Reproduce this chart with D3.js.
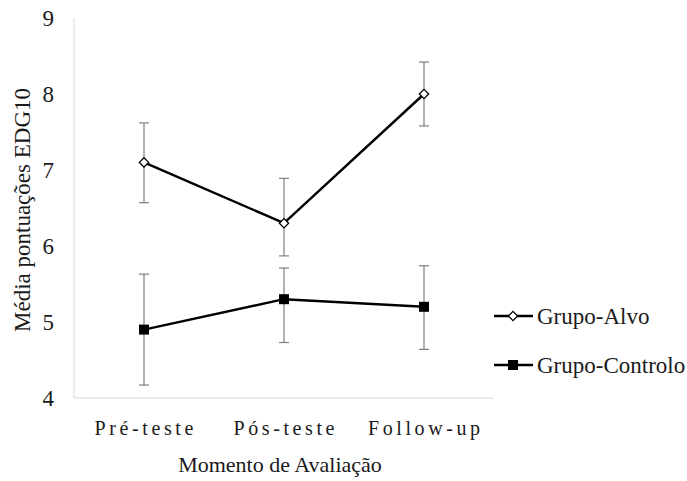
<!DOCTYPE html>
<html><head><meta charset="utf-8">
<script src="https://cdn.jsdelivr.net/npm/d3@7"></script>
<style>body{margin:0;background:#fff}</style>
</head><body>
<svg id="c" width="687" height="481"></svg>
<script>
const categories = ["Pré-teste", "Pós-teste", "Follow-up"];
const alvoMean = [7.1, 6.3, 8.0];
const alvoLow = [6.57, 5.87, 7.58];
const alvoHigh = [7.62, 6.89, 8.42];
const controloMean = [4.9, 5.3, 5.2];
const controloLow = [4.17, 4.73, 4.64];
const controloHigh = [5.63, 5.71, 5.74];
const yTicks = [4, 5, 6, 7, 8, 9];
const seriesNames = ["Grupo-Alvo", "Grupo-Controlo"];

const svg = d3.select("#c");
const x = d3.scaleBand().domain(categories).range([74, 494]);
const y = d3.scaleLinear().domain([4, 9]).range([398, 18]);
const serif = "'Liberation Serif', 'Times New Roman', serif";
const txt = "#1a1a1a";

// axes lines
svg.append("line").attr("x1", 74).attr("x2", 74).attr("y1", y(9)).attr("y2", y(4)).attr("stroke", "#d9d9d9").attr("stroke-width", 1);
svg.append("line").attr("x1", 74).attr("x2", 494).attr("y1", y(4)).attr("y2", y(4)).attr("stroke", "#d9d9d9").attr("stroke-width", 1);

// y tick labels
svg.selectAll(".yt").data(yTicks).join("text")
  .attr("x", 54).attr("y", d => y(d)).attr("dy", "0.33em")
  .attr("text-anchor", "end").attr("font-family", serif).attr("font-size", 23).attr("fill", txt)
  .text(d => d);

// x tick labels
svg.selectAll(".xt").data(categories).join("text")
  .attr("x", d => x(d) + x.bandwidth() / 2 + 1.8).attr("y", 435)
  .attr("text-anchor", "middle").attr("font-family", serif).attr("font-size", 20)
  .attr("letter-spacing", "3.6px").attr("fill", txt)
  .text(d => d);

// axis titles
svg.append("text").attr("x", 280).attr("y", 472).attr("text-anchor", "middle")
  .attr("font-family", serif).attr("font-size", 22).attr("fill", txt).text("Momento de Avaliação");
svg.append("text").attr("transform", "translate(30,210) rotate(-90)").attr("text-anchor", "middle")
  .attr("font-family", serif).attr("font-size", 23).attr("fill", txt).text("Média pontuações EDG10");

const cx = d => x(d) + x.bandwidth() / 2;
function errorBars(means, lows, highs) {
  const g = svg.append("g").attr("stroke", "#7f7f7f").attr("stroke-width", 1.2);
  categories.forEach((c, i) => {
    g.append("line").attr("x1", cx(c)).attr("x2", cx(c)).attr("y1", y(lows[i])).attr("y2", y(highs[i]));
    g.append("line").attr("x1", cx(c) - 5).attr("x2", cx(c) + 5).attr("y1", y(lows[i])).attr("y2", y(lows[i]));
    g.append("line").attr("x1", cx(c) - 5).attr("x2", cx(c) + 5).attr("y1", y(highs[i])).attr("y2", y(highs[i]));
  });
}
errorBars(alvoMean, alvoLow, alvoHigh);
errorBars(controloMean, controloLow, controloHigh);

const line = d3.line().x((d, i) => cx(categories[i])).y(d => y(d));
svg.append("path").attr("d", line(alvoMean)).attr("fill", "none").attr("stroke", "#000").attr("stroke-width", 2.4);
svg.append("path").attr("d", line(controloMean)).attr("fill", "none").attr("stroke", "#000").attr("stroke-width", 2.4);

const diamond = d3.symbol().type(d3.symbolDiamond2).size(55);
const square = d3.symbol().type(d3.symbolSquare).size(100);
svg.selectAll(".ma").data(alvoMean).join("path")
  .attr("transform", (d, i) => `translate(${cx(categories[i])},${y(d)})`)
  .attr("d", diamond).attr("fill", "#fff").attr("stroke", "#000").attr("stroke-width", 1.3);
svg.selectAll(".mc").data(controloMean).join("path")
  .attr("transform", (d, i) => `translate(${cx(categories[i])},${y(d)})`)
  .attr("d", square).attr("fill", "#000");

// legend
const legY = [316, 365];
seriesNames.forEach((n, i) => {
  const g = svg.append("g");
  g.append("line").attr("x1", 494).attr("x2", 533).attr("y1", legY[i]).attr("y2", legY[i]).attr("stroke", "#000").attr("stroke-width", 2.4);
  g.append("path").attr("transform", `translate(513,${legY[i]})`).attr("d", i === 0 ? diamond : square)
    .attr("fill", i === 0 ? "#fff" : "#000").attr("stroke", i === 0 ? "#000" : "none").attr("stroke-width", 1.3);
  g.append("text").attr("x", 537).attr("y", legY[i]).attr("dy", "0.33em")
    .attr("font-family", serif).attr("font-size", 23).attr("fill", txt).text(n);
});
</script>
</body></html>
